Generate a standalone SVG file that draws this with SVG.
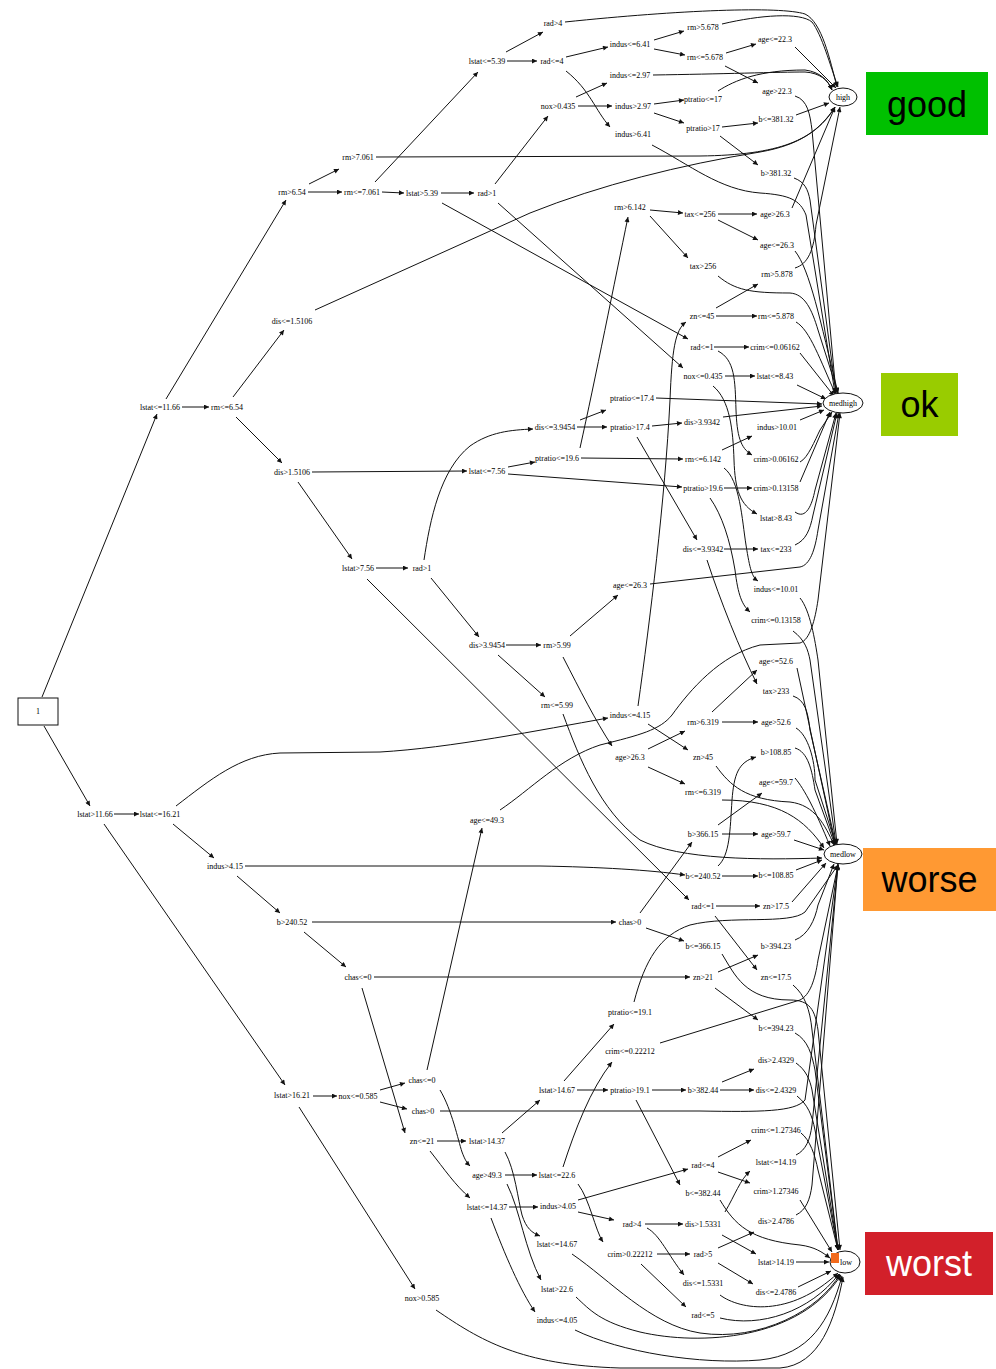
<svg xmlns="http://www.w3.org/2000/svg" width="996" height="1369" viewBox="0 0 996 1369">
<style>
  .lbl { font-family: "Liberation Serif", "Times New Roman", serif; font-size: 8px; text-anchor: middle; fill: #000; }
  .edge { fill: none; stroke: #111; stroke-width: 1; marker-end: url(#arrow); }
  .cls { fill: #fff; stroke: #111; stroke-width: 1; }
  .legend { font-family: "Liberation Sans", Arial, sans-serif; font-size: 36px; text-anchor: middle; }
</style>
<defs>
  <marker id="arrow" viewBox="0 0 10 10" refX="10" refY="5" markerWidth="7" markerHeight="5" markerUnits="userSpaceOnUse" orient="auto">
    <path d="M0,0 L10,5 L0,10 z" fill="#111"/>
  </marker>
</defs>
<rect width="996" height="1369" fill="#fff"/>

<!-- connectors -->
<g id="edges">
  <!-- root -->
  <path class="edge" d="M42 697 L157 414"/>
  <path class="edge" d="M44 726 L90 806"/>
  <!-- lstat<=11.66 branch -->
  <path class="edge" d="M182 407 L209 407"/>
  <path class="edge" d="M166 399 L286 200"/>
  <path class="edge" d="M309 184 L339 169"/>
  <path class="edge" d="M308 192 L342 192"/>
  <path class="edge" d="M376 157 L700 156 C780 155 815 140 835 107"/>
  <path class="edge" d="M375 182 L478 72"/>
  <path class="edge" d="M382 192 L404 193"/>
  <path class="edge" d="M506 52 L543 32"/>
  <path class="edge" d="M507 61 L537 61"/>
  <path class="edge" d="M565 22 C680 10 780 6 805 14 C822 22 830 60 837 87"/>
  <path class="edge" d="M722 24 C760 15 800 12 812 22 C822 35 830 65 838 87"/>
  <path class="edge" d="M795 47 L836 88"/>
  <path class="edge" d="M566 57 L608 47"/>
  <path class="edge" d="M566 71 C590 90 595 110 610 127"/>
  <path class="edge" d="M654 40 L684 31"/>
  <path class="edge" d="M654 49 L685 55"/>
  <path class="edge" d="M726 53 L756 44"/>
  <path class="edge" d="M725 66 L758 83"/>
  <path class="edge" d="M795 96 C808 100 810 115 812 130 L836 393"/>
  <path class="edge" d="M652 145 C690 165 720 190 760 193 C790 195 800 200 806 215 L835 393"/>
  <path class="edge" d="M441 193 L474 193"/>
  <path class="edge" d="M442 203 L688 339"/>
  <path class="edge" d="M495 184 L548 116"/>
  <path class="edge" d="M498 203 L683 368"/>
  <path class="edge" d="M576 97 L607 83"/>
  <path class="edge" d="M578 106 L612 106"/>
  <path class="edge" d="M653 75 C720 74 780 72 805 72 C820 73 828 80 832 90"/>
  <path class="edge" d="M718 91 C735 80 760 70 805 70 C820 72 828 80 832 90"/>
  <path class="edge" d="M654 104 L684 100"/>
  <path class="edge" d="M654 113 L684 123"/>
  <path class="edge" d="M722 127 L758 123"/>
  <path class="edge" d="M720 136 L758 165"/>
  <path class="edge" d="M796 115 L829 103"/>
  <path class="edge" d="M794 178 C805 182 808 190 810 200 L836 393"/>
  <path class="edge" d="M725 376 L755 376"/>
  <path class="edge" d="M713 386 C730 400 733 430 734 460 C735 490 740 505 757 514"/>
  <path class="edge" d="M714 347 L749 347"/>
  <path class="edge" d="M718 351 C735 360 735 380 736 410 C737 435 740 448 752 455"/>
  <path class="edge" d="M650 210 L683 213"/>
  <path class="edge" d="M650 216 L688 258"/>
  <path class="edge" d="M718 214 L757 214"/>
  <path class="edge" d="M718 220 L758 240"/>
  <path class="edge" d="M792 208 L835 107"/>
  <path class="edge" d="M795 251 C810 270 820 320 838 393"/>
  <path class="edge" d="M718 276 C735 290 750 293 790 293 C805 294 812 310 818 330 L838 393"/>
  <path class="edge" d="M795 268 C808 264 814 250 816 225 L840 107"/>
  <path class="edge" d="M716 316 L757 316"/>
  <path class="edge" d="M716 308 L758 284"/>
  <path class="edge" d="M796 322 C810 330 820 360 836 395"/>
  <path class="edge" d="M800 353 L834 396"/>
  <path class="edge" d="M797 385 L826 399"/>
  <path class="edge" d="M315 310 L530 213 C600 185 680 165 760 152 C800 145 820 130 835 107"/>
  <path class="edge" d="M233 397 L284 330"/>
  <path class="edge" d="M236 417 L282 463"/>
  <path class="edge" d="M312 472 L467 471"/>
  <path class="edge" d="M298 482 L352 559"/>
  <path class="edge" d="M508 467 L535 462"/>
  <path class="edge" d="M508 474 L682 487"/>
  <path class="edge" d="M581 458 L683 459"/>
  <path class="edge" d="M580 448 C595 380 615 280 628 217"/>
  <path class="edge" d="M722 450 L752 436"/>
  <path class="edge" d="M724 468 C740 480 742 520 746 545 C750 570 752 577 758 581"/>
  <path class="edge" d="M724 488 L752 488"/>
  <path class="edge" d="M710 498 C722 515 730 540 735 570 C738 595 742 605 750 612"/>
  <path class="edge" d="M800 482 L830 412"/>
  <path class="edge" d="M800 462 C808 458 815 440 820 430 L832 412"/>
  <path class="edge" d="M795 512 C806 520 812 505 815 490 L836 413"/>
  <path class="edge" d="M795 545 C806 540 810 530 813 515 L837 413"/>
  <path class="edge" d="M650 584 L800 567 C810 565 815 550 818 530 L839 413"/>
  <path class="edge" d="M376 568 L408 568"/>
  <path class="edge" d="M367 579 L689 900"/>
  <path class="edge" d="M424 560 C430 520 440 470 470 446 C490 432 510 430 533 429"/>
  <path class="edge" d="M431 578 L479 637"/>
  <path class="edge" d="M580 420 L606 410"/>
  <path class="edge" d="M577 427 L607 427"/>
  <path class="edge" d="M656 398 L822 404"/>
  <path class="edge" d="M652 426 L682 423"/>
  <path class="edge" d="M637 437 L697 540"/>
  <path class="edge" d="M723 417 L822 406"/>
  <path class="edge" d="M800 420 L824 410"/>
  <path class="edge" d="M724 549 L758 549"/>
  <path class="edge" d="M707 560 C720 600 740 650 757 684"/>
  <path class="edge" d="M800 598 C810 610 815 640 818 660 L837 844"/>
  <path class="edge" d="M793 631 C805 640 808 650 810 660 L836 844"/>
  <path class="edge" d="M797 668 L835 845"/>
  <path class="edge" d="M793 696 C805 700 808 712 810 730 L836 845"/>
  <path class="edge" d="M506 645 L541 645"/>
  <path class="edge" d="M498 655 L545 697"/>
  <path class="edge" d="M570 636 L618 595"/>
  <path class="edge" d="M563 657 C580 690 595 720 612 746"/>
  <path class="edge" d="M563 714 C580 760 600 810 640 840 C680 860 760 860 822 858"/>
  <path class="edge" d="M648 749 L685 731"/>
  <path class="edge" d="M648 767 L685 784"/>
  <path class="edge" d="M722 722 L758 722"/>
  <path class="edge" d="M712 712 L757 670"/>
  <path class="edge" d="M722 800 C780 800 805 820 824 848"/>
  <path class="edge" d="M796 728 C808 735 815 760 815 780 L836 845"/>
  <path class="edge" d="M795 748 C808 752 812 770 815 790 L835 845"/>
  <path class="edge" d="M795 778 C805 790 815 810 830 846"/>
  <path class="edge" d="M794 840 L824 850"/>
  <path class="edge" d="M648 724 L688 750"/>
  <path class="edge" d="M638 706 C650 620 665 500 670 400 C672 350 675 330 686 322"/>
  <path class="edge" d="M716 766 C730 785 745 800 790 802 C815 805 825 825 834 845"/>
  <!-- lstat>11.66 branch -->
  <path class="edge" d="M114 814 L139 814"/>
  <path class="edge" d="M104 824 L285 1085"/>
  <path class="edge" d="M176 806 C210 780 240 755 280 753 L380 752 C450 748 540 730 608 718"/>
  <path class="edge" d="M173 824 L214 858"/>
  <path class="edge" d="M245 866 L540 866 C600 867 650 870 685 875"/>
  <path class="edge" d="M237 876 L280 913"/>
  <path class="edge" d="M312 922 L616 922"/>
  <path class="edge" d="M304 932 L346 967"/>
  <path class="edge" d="M646 928 L684 941"/>
  <path class="edge" d="M640 913 L692 842"/>
  <path class="edge" d="M722 834 L758 834"/>
  <path class="edge" d="M718 825 L762 793"/>
  <path class="edge" d="M722 876 L758 876"/>
  <path class="edge" d="M718 866 C730 855 730 830 732 800 C734 775 738 762 756 757"/>
  <path class="edge" d="M796 870 L822 860"/>
  <path class="edge" d="M716 906 L760 906"/>
  <path class="edge" d="M715 916 L757 970"/>
  <path class="edge" d="M792 902 L826 863"/>
  <path class="edge" d="M374 977 L690 977"/>
  <path class="edge" d="M362 988 L405 1133"/>
  <path class="edge" d="M718 972 L758 955"/>
  <path class="edge" d="M715 988 L758 1020"/>
  <path class="edge" d="M795 940 C808 935 815 920 818 905 L834 864"/>
  <path class="edge" d="M722 954 C735 975 745 1000 790 1000 C810 1000 815 1010 818 1030 L840 1250"/>
  <path class="edge" d="M793 985 C805 995 810 1010 812 1030 L838 1250"/>
  <path class="edge" d="M795 1033 C808 1040 812 1055 815 1070 L838 1250"/>
  <path class="edge" d="M440 1111 L700 1111 C760 1112 795 1112 805 1100 L838 864"/>
  <path class="edge" d="M313 1096 L337 1096"/>
  <path class="edge" d="M299 1107 L415 1289"/>
  <path class="edge" d="M380 1090 L405 1083"/>
  <path class="edge" d="M380 1102 L407 1109"/>
  <path class="edge" d="M427 1070 L482 828"/>
  <path class="edge" d="M440 1090 C452 1110 458 1140 462 1152 C465 1160 467 1163 470 1166"/>
  <path class="edge" d="M500 810 C530 790 560 758 600 745 C640 735 660 730 672 715 C690 690 720 655 760 645 L800 643 C810 640 815 620 818 600 L840 413"/>
  <path class="edge" d="M505 1175 L537 1175"/>
  <path class="edge" d="M507 1184 C520 1210 525 1250 541 1280"/>
  <path class="edge" d="M563 1167 C575 1130 590 1090 612 1062"/>
  <path class="edge" d="M578 1184 C590 1200 595 1230 603 1242"/>
  <path class="edge" d="M660 1043 L800 1000 C810 995 815 980 818 960 L838 865"/>
  <path class="edge" d="M657 1254 L690 1254"/>
  <path class="edge" d="M641 1264 L686 1307"/>
  <path class="edge" d="M718 1248 L754 1232"/>
  <path class="edge" d="M718 1263 L753 1284"/>
  <path class="edge" d="M796 1215 C806 1210 810 1200 812 1185 L838 864"/>
  <path class="edge" d="M798 1287 L831 1271"/>
  <path class="edge" d="M720 1318 C760 1328 810 1312 839 1274"/>
  <path class="edge" d="M437 1141 L466 1141"/>
  <path class="edge" d="M430 1151 C445 1170 455 1185 470 1198"/>
  <path class="edge" d="M502 1133 L540 1100"/>
  <path class="edge" d="M505 1152 C515 1170 518 1200 522 1215 C526 1228 532 1233 540 1236"/>
  <path class="edge" d="M509 1207 L538 1207"/>
  <path class="edge" d="M491 1218 C505 1255 520 1290 535 1312"/>
  <path class="edge" d="M564 1081 L614 1024"/>
  <path class="edge" d="M577 1090 L608 1090"/>
  <path class="edge" d="M634 1002 C645 960 660 935 690 925 C730 915 790 925 805 912 L838 865"/>
  <path class="edge" d="M652 1090 L686 1090"/>
  <path class="edge" d="M636 1100 L680 1185"/>
  <path class="edge" d="M720 1090 L754 1090"/>
  <path class="edge" d="M722 1082 L754 1069"/>
  <path class="edge" d="M796 1063 C806 1070 810 1080 812 1090 L838 1250"/>
  <path class="edge" d="M797 1096 C808 1105 812 1115 815 1130 L838 1250"/>
  <path class="edge" d="M720 1200 C735 1225 750 1240 800 1245 C815 1247 822 1252 830 1258"/>
  <path class="edge" d="M578 1200 L688 1169"/>
  <path class="edge" d="M578 1212 L614 1220"/>
  <path class="edge" d="M718 1157 L751 1140"/>
  <path class="edge" d="M718 1172 L750 1183"/>
  <path class="edge" d="M645 1224 L683 1224"/>
  <path class="edge" d="M647 1228 C660 1235 668 1255 684 1275"/>
  <path class="edge" d="M722 1235 L756 1254"/>
  <path class="edge" d="M725 1212 C735 1195 740 1180 750 1171"/>
  <path class="edge" d="M796 1262 L829 1262"/>
  <path class="edge" d="M801 1133 C810 1140 815 1155 818 1170 L838 1250"/>
  <path class="edge" d="M800 1200 L832 1252"/>
  <path class="edge" d="M796 1155 C806 1150 810 1140 812 1125 L838 865"/>
  <path class="edge" d="M720 1295 C740 1310 790 1318 838 1273"/>
  <path class="edge" d="M572 1254 C610 1280 650 1325 700 1333 C760 1342 820 1310 840 1274"/>
  <path class="edge" d="M576 1297 C590 1310 600 1322 640 1332 C700 1346 800 1340 841 1275"/>
  <path class="edge" d="M575 1330 C620 1352 700 1365 760 1360 C810 1355 830 1320 842 1276"/>
  <path class="edge" d="M436 1310 C480 1340 520 1365 620 1368 L780 1368 C820 1365 835 1320 843 1277"/>
</g>

<!-- root -->
<g id="root"><rect x="18" y="698" width="40" height="27" fill="#fff" stroke="#111"/><text class="lbl" x="38" y="714">1</text></g>

<!-- split nodes -->
<g id="n_lstat_le_11_66"><text class="lbl" x="160" y="410">lstat&lt;=11.66</text></g>
<g id="n_lstat_gt_11_66"><text class="lbl" x="95" y="817">lstat&gt;11.66</text></g>
<g id="n_rm_gt_6_54"><text class="lbl" x="292" y="195">rm&gt;6.54</text></g>
<g id="n_rm_le_6_54"><text class="lbl" x="227" y="410">rm&lt;=6.54</text></g>
<g id="n_rm_gt_7_061"><text class="lbl" x="358" y="160">rm&gt;7.061</text></g>
<g id="n_rm_le_7_061"><text class="lbl" x="362" y="195">rm&lt;=7.061</text></g>
<g id="n_lstat_le_5_39"><text class="lbl" x="487" y="64">lstat&lt;=5.39</text></g>
<g id="n_lstat_gt_5_39"><text class="lbl" x="422" y="196">lstat&gt;5.39</text></g>
<g id="n_rad_gt_4_a"><text class="lbl" x="553" y="26">rad&gt;4</text></g>
<g id="n_rad_le_4_a"><text class="lbl" x="552" y="64">rad&lt;=4</text></g>
<g id="n_indus_le_6_41"><text class="lbl" x="630" y="47">indus&lt;=6.41</text></g>
<g id="n_indus_gt_6_41"><text class="lbl" x="633" y="137">indus&gt;6.41</text></g>
<g id="n_rm_gt_5_678"><text class="lbl" x="703" y="30">rm&gt;5.678</text></g>
<g id="n_rm_le_5_678"><text class="lbl" x="705" y="60">rm&lt;=5.678</text></g>
<g id="n_age_le_22_3"><text class="lbl" x="775" y="42">age&lt;=22.3</text></g>
<g id="n_age_gt_22_3"><text class="lbl" x="777" y="94">age&gt;22.3</text></g>
<g id="n_rad_gt_1_a"><text class="lbl" x="487" y="196">rad&gt;1</text></g>
<g id="n_rad_le_1_a"><text class="lbl" x="702" y="350">rad&lt;=1</text></g>
<g id="n_nox_gt_0_435"><text class="lbl" x="558" y="109">nox&gt;0.435</text></g>
<g id="n_nox_le_0_435"><text class="lbl" x="703" y="379">nox&lt;=0.435</text></g>
<g id="n_indus_le_2_97"><text class="lbl" x="630" y="78">indus&lt;=2.97</text></g>
<g id="n_indus_gt_2_97"><text class="lbl" x="633" y="109">indus&gt;2.97</text></g>
<g id="n_ptratio_le_17"><text class="lbl" x="703" y="102">ptratio&lt;=17</text></g>
<g id="n_ptratio_gt_17"><text class="lbl" x="703" y="131">ptratio&gt;17</text></g>
<g id="n_b_le_381_32"><text class="lbl" x="776" y="122">b&lt;=381.32</text></g>
<g id="n_b_gt_381_32"><text class="lbl" x="776" y="176">b&gt;381.32</text></g>
<g id="n_lstat_le_8_43"><text class="lbl" x="775" y="379">lstat&lt;=8.43</text></g>
<g id="n_lstat_gt_8_43"><text class="lbl" x="776" y="521">lstat&gt;8.43</text></g>
<g id="n_crim_le_0_06162"><text class="lbl" x="775" y="350">crim&lt;=0.06162</text></g>
<g id="n_crim_gt_0_06162"><text class="lbl" x="776" y="462">crim&gt;0.06162</text></g>
<g id="n_dis_le_1_5106"><text class="lbl" x="292" y="324">dis&lt;=1.5106</text></g>
<g id="n_dis_gt_1_5106"><text class="lbl" x="292" y="475">dis&gt;1.5106</text></g>
<g id="n_lstat_le_7_56"><text class="lbl" x="487" y="474">lstat&lt;=7.56</text></g>
<g id="n_lstat_gt_7_56"><text class="lbl" x="358" y="571">lstat&gt;7.56</text></g>
<g id="n_ptratio_le_19_6"><text class="lbl" x="557" y="461">ptratio&lt;=19.6</text></g>
<g id="n_ptratio_gt_19_6"><text class="lbl" x="703" y="491">ptratio&gt;19.6</text></g>
<g id="n_rm_gt_6_142"><text class="lbl" x="630" y="210">rm&gt;6.142</text></g>
<g id="n_rm_le_6_142"><text class="lbl" x="703" y="462">rm&lt;=6.142</text></g>
<g id="n_tax_le_256"><text class="lbl" x="700" y="217">tax&lt;=256</text></g>
<g id="n_tax_gt_256"><text class="lbl" x="703" y="269">tax&gt;256</text></g>
<g id="n_age_gt_26_3_a"><text class="lbl" x="775" y="217">age&gt;26.3</text></g>
<g id="n_age_le_26_3_a"><text class="lbl" x="777" y="248">age&lt;=26.3</text></g>
<g id="n_indus_gt_10_01"><text class="lbl" x="777" y="430">indus&gt;10.01</text></g>
<g id="n_indus_le_10_01"><text class="lbl" x="776" y="592">indus&lt;=10.01</text></g>
<g id="n_crim_gt_0_13158"><text class="lbl" x="776" y="491">crim&gt;0.13158</text></g>
<g id="n_crim_le_0_13158"><text class="lbl" x="776" y="623">crim&lt;=0.13158</text></g>
<g id="n_rad_gt_1_b"><text class="lbl" x="422" y="571">rad&gt;1</text></g>
<g id="n_rad_le_1_b"><text class="lbl" x="703" y="909">rad&lt;=1</text></g>
<g id="n_dis_le_3_9454"><text class="lbl" x="555" y="430">dis&lt;=3.9454</text></g>
<g id="n_dis_gt_3_9454"><text class="lbl" x="487" y="648">dis&gt;3.9454</text></g>
<g id="n_ptratio_le_17_4"><text class="lbl" x="632" y="401">ptratio&lt;=17.4</text></g>
<g id="n_ptratio_gt_17_4"><text class="lbl" x="630" y="430">ptratio&gt;17.4</text></g>
<g id="n_dis_gt_3_9342"><text class="lbl" x="702" y="425">dis&gt;3.9342</text></g>
<g id="n_dis_le_3_9342"><text class="lbl" x="703" y="552">dis&lt;=3.9342</text></g>
<g id="n_tax_le_233"><text class="lbl" x="776" y="552">tax&lt;=233</text></g>
<g id="n_tax_gt_233"><text class="lbl" x="776" y="694">tax&gt;233</text></g>
<g id="n_rm_gt_5_99"><text class="lbl" x="557" y="648">rm&gt;5.99</text></g>
<g id="n_rm_le_5_99"><text class="lbl" x="557" y="708">rm&lt;=5.99</text></g>
<g id="n_age_le_26_3_b"><text class="lbl" x="630" y="588">age&lt;=26.3</text></g>
<g id="n_age_gt_26_3_b"><text class="lbl" x="630" y="760">age&gt;26.3</text></g>
<g id="n_rm_gt_6_319"><text class="lbl" x="703" y="725">rm&gt;6.319</text></g>
<g id="n_rm_le_6_319"><text class="lbl" x="703" y="795">rm&lt;=6.319</text></g>
<g id="n_age_le_52_6"><text class="lbl" x="776" y="664">age&lt;=52.6</text></g>
<g id="n_age_gt_52_6"><text class="lbl" x="776" y="725">age&gt;52.6</text></g>
<g id="n_lstat_le_16_21"><text class="lbl" x="160" y="817">lstat&lt;=16.21</text></g>
<g id="n_lstat_gt_16_21"><text class="lbl" x="292" y="1098">lstat&gt;16.21</text></g>
<g id="n_indus_le_4_15"><text class="lbl" x="630" y="718">indus&lt;=4.15</text></g>
<g id="n_indus_gt_4_15"><text class="lbl" x="225" y="869">indus&gt;4.15</text></g>
<g id="n_zn_le_45"><text class="lbl" x="702" y="319">zn&lt;=45</text></g>
<g id="n_zn_gt_45"><text class="lbl" x="703" y="760">zn&gt;45</text></g>
<g id="n_rm_gt_5_878"><text class="lbl" x="777" y="277">rm&gt;5.878</text></g>
<g id="n_rm_le_5_878"><text class="lbl" x="776" y="319">rm&lt;=5.878</text></g>
<g id="n_b_le_240_52"><text class="lbl" x="703" y="879">b&lt;=240.52</text></g>
<g id="n_b_gt_240_52"><text class="lbl" x="292" y="925">b&gt;240.52</text></g>
<g id="n_b_le_108_85"><text class="lbl" x="776" y="878">b&lt;=108.85</text></g>
<g id="n_b_gt_108_85"><text class="lbl" x="776" y="755">b&gt;108.85</text></g>
<g id="n_chas_gt_0_a"><text class="lbl" x="630" y="925">chas&gt;0</text></g>
<g id="n_chas_le_0_a"><text class="lbl" x="358" y="980">chas&lt;=0</text></g>
<g id="n_b_le_366_15"><text class="lbl" x="703" y="949">b&lt;=366.15</text></g>
<g id="n_b_gt_366_15"><text class="lbl" x="703" y="837">b&gt;366.15</text></g>
<g id="n_age_le_59_7"><text class="lbl" x="776" y="785">age&lt;=59.7</text></g>
<g id="n_age_gt_59_7"><text class="lbl" x="776" y="837">age&gt;59.7</text></g>
<g id="n_zn_gt_17_5"><text class="lbl" x="776" y="909">zn&gt;17.5</text></g>
<g id="n_zn_le_17_5"><text class="lbl" x="776" y="980">zn&lt;=17.5</text></g>
<g id="n_zn_gt_21"><text class="lbl" x="703" y="980">zn&gt;21</text></g>
<g id="n_zn_le_21"><text class="lbl" x="422" y="1144">zn&lt;=21</text></g>
<g id="n_b_gt_394_23"><text class="lbl" x="776" y="949">b&gt;394.23</text></g>
<g id="n_b_le_394_23"><text class="lbl" x="776" y="1031">b&lt;=394.23</text></g>
<g id="n_nox_le_0_585"><text class="lbl" x="358" y="1099">nox&lt;=0.585</text></g>
<g id="n_nox_gt_0_585"><text class="lbl" x="422" y="1301">nox&gt;0.585</text></g>
<g id="n_chas_le_0_b"><text class="lbl" x="422" y="1083">chas&lt;=0</text></g>
<g id="n_chas_gt_0_b"><text class="lbl" x="423" y="1114">chas&gt;0</text></g>
<g id="n_age_le_49_3"><text class="lbl" x="487" y="823">age&lt;=49.3</text></g>
<g id="n_age_gt_49_3"><text class="lbl" x="487" y="1178">age&gt;49.3</text></g>
<g id="n_lstat_le_22_6"><text class="lbl" x="557" y="1178">lstat&lt;=22.6</text></g>
<g id="n_lstat_gt_22_6"><text class="lbl" x="557" y="1292">lstat&gt;22.6</text></g>
<g id="n_crim_le_0_22212"><text class="lbl" x="630" y="1054">crim&lt;=0.22212</text></g>
<g id="n_crim_gt_0_22212"><text class="lbl" x="630" y="1257">crim&gt;0.22212</text></g>
<g id="n_rad_gt_5"><text class="lbl" x="703" y="1257">rad&gt;5</text></g>
<g id="n_rad_le_5"><text class="lbl" x="703" y="1318">rad&lt;=5</text></g>
<g id="n_dis_gt_2_4786"><text class="lbl" x="776" y="1224">dis&gt;2.4786</text></g>
<g id="n_dis_le_2_4786"><text class="lbl" x="776" y="1295">dis&lt;=2.4786</text></g>
<g id="n_lstat_gt_14_37"><text class="lbl" x="487" y="1144">lstat&gt;14.37</text></g>
<g id="n_lstat_le_14_37"><text class="lbl" x="487" y="1210">lstat&lt;=14.37</text></g>
<g id="n_lstat_gt_14_67"><text class="lbl" x="557" y="1093">lstat&gt;14.67</text></g>
<g id="n_lstat_le_14_67"><text class="lbl" x="557" y="1247">lstat&lt;=14.67</text></g>
<g id="n_ptratio_le_19_1"><text class="lbl" x="630" y="1015">ptratio&lt;=19.1</text></g>
<g id="n_ptratio_gt_19_1"><text class="lbl" x="630" y="1093">ptratio&gt;19.1</text></g>
<g id="n_b_gt_382_44"><text class="lbl" x="703" y="1093">b&gt;382.44</text></g>
<g id="n_b_le_382_44"><text class="lbl" x="703" y="1196">b&lt;=382.44</text></g>
<g id="n_dis_gt_2_4329"><text class="lbl" x="776" y="1063">dis&gt;2.4329</text></g>
<g id="n_dis_le_2_4329"><text class="lbl" x="776" y="1093">dis&lt;=2.4329</text></g>
<g id="n_indus_gt_4_05"><text class="lbl" x="558" y="1209">indus&gt;4.05</text></g>
<g id="n_indus_le_4_05"><text class="lbl" x="557" y="1323">indus&lt;=4.05</text></g>
<g id="n_rad_le_4_b"><text class="lbl" x="703" y="1168">rad&lt;=4</text></g>
<g id="n_rad_gt_4_b"><text class="lbl" x="632" y="1227">rad&gt;4</text></g>
<g id="n_crim_le_1_27346"><text class="lbl" x="776" y="1133">crim&lt;=1.27346</text></g>
<g id="n_crim_gt_1_27346"><text class="lbl" x="776" y="1194">crim&gt;1.27346</text></g>
<g id="n_dis_gt_1_5331"><text class="lbl" x="703" y="1227">dis&gt;1.5331</text></g>
<g id="n_dis_le_1_5331"><text class="lbl" x="703" y="1286">dis&lt;=1.5331</text></g>
<g id="n_lstat_le_14_19"><text class="lbl" x="776" y="1165">lstat&lt;=14.19</text></g>
<g id="n_lstat_gt_14_19"><text class="lbl" x="776" y="1265">lstat&gt;14.19</text></g>

<!-- class nodes -->
<g id="c_high"><ellipse class="cls" cx="843" cy="97" rx="14" ry="9"/><text class="lbl" x="843" y="100">high</text></g>
<g id="c_medhigh"><ellipse class="cls" cx="843" cy="403" rx="20" ry="10"/><text class="lbl" x="843" y="406">medhigh</text></g>
<g id="c_medlow"><ellipse class="cls" cx="843" cy="854" rx="19" ry="10"/><text class="lbl" x="843" y="857">medlow</text></g>
<g id="c_low"><ellipse class="cls" cx="845" cy="1262" rx="15" ry="11"/><text class="lbl" x="846" y="1265">low</text><rect x="831" y="1253" width="8" height="10" fill="#f26a1b"/></g>

<!-- legend -->
<g id="legend_good"><rect x="866" y="72" width="122" height="63" fill="#00c000"/><text class="legend" x="927" y="117" fill="#000">good</text></g>
<g id="legend_ok"><rect x="881" y="373" width="77" height="63" fill="#99cc00"/><text class="legend" x="919.5" y="417" fill="#000">ok</text></g>
<g id="legend_worse"><rect x="863" y="848" width="133" height="63" fill="#ff9933"/><text class="legend" x="929.5" y="892" fill="#000">worse</text></g>
<g id="legend_worst"><rect x="865" y="1232" width="128" height="63" fill="#d2202a"/><text class="legend" x="929" y="1276" fill="#fff">worst</text></g>
</svg>
